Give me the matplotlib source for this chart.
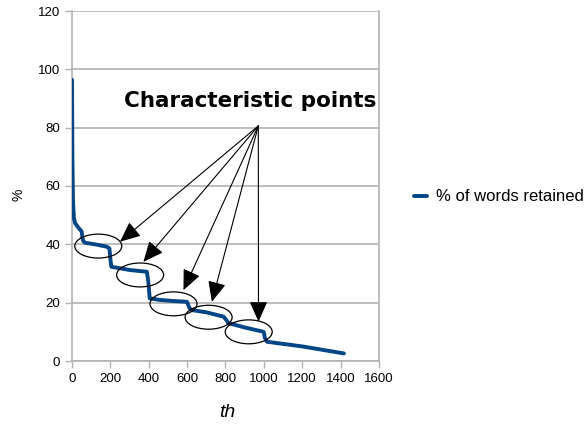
import matplotlib
matplotlib.use("Agg")
import matplotlib.pyplot as plt
from matplotlib.patches import Ellipse

plt.rcParams['font.family'] = ['Liberation Sans', 'DejaVu Sans']

# Data
th = [0, 2, 5, 10, 16, 30, 42, 50, 55, 60, 70, 120, 181, 195, 200, 205, 250, 300,
      390, 398, 405, 450, 520, 599, 610, 620, 700, 790, 805, 815, 900, 999, 1005,
      1016, 1200, 1417]
pct = [96.4, 70, 55, 49, 47.3, 46, 45, 44.5, 42, 41, 40.5, 40, 39.2, 38.6, 35, 32.3,
       31.8, 31.2, 30.6, 27, 21.5, 21, 20.6, 20.3, 18.5, 17.5, 16.7, 15.2, 14, 13,
       11.5, 10, 8, 6.6, 5, 2.6]

# Characteristic points (ellipse centres) and arrow tips
ell_x = [137, 355, 529, 712, 921]
ell_y = [39.4, 29.5, 19.6, 15.0, 10.0]
tip_x = [250, 372, 581, 729, 972]
tip_y = [40.9, 34.0, 24.3, 20.3, 13.5]
src_x, src_y = 971, 80.6

xticks = [0, 200, 400, 600, 800, 1000, 1200, 1400, 1600]
yticks = [0, 20, 40, 60, 80, 100, 120]

fig = plt.figure(figsize=(5.87, 4.24), dpi=100)
ax = fig.add_axes([72/587, 63/424, (379-72)/587, (361-11)/424])

ax.plot(th, pct, color='#004586', lw=2.8, label='% of words retained',
        solid_capstyle='round', solid_joinstyle='round', zorder=3)

for cx, cy in zip(ell_x, ell_y):
    ax.add_patch(Ellipse((cx, cy), width=245, height=8.2, fill=False,
                         edgecolor='black', lw=0.9, zorder=4))

for tx, ty in zip(tip_x, tip_y):
    ax.annotate('', xy=(tx, ty), xytext=(src_x, src_y),
                arrowprops=dict(arrowstyle='-|>,head_length=0.9,head_width=0.4',
                                color='black', lw=0.8, shrinkA=0, shrinkB=0,
                                mutation_scale=14), zorder=5)

ax.text(1585, 89.3, 'Characteristic points', ha='right', va='center',
        fontsize=15.5, fontweight='bold', family='DejaVu Sans', zorder=6)

ax.set_xlim(0, 1600)
ax.set_ylim(0, 120)
ax.set_xticks(xticks)
ax.set_yticks(yticks)
ax.tick_params(labelsize=9.5, color='#b3b3b3', length=5, width=1, pad=3.5)
ax.yaxis.grid(True, color='#b3b3b3', lw=1.2)
ax.set_axisbelow(True)
for s in ax.spines.values():
    s.set_color('#b3b3b3')
    s.set_linewidth(1.2)
ax.spines['top'].set_visible(False)

ax.set_ylabel('%', fontsize=10)
ax.yaxis.set_label_coords(-0.15, 0.474)
ax.set_xlabel('th', fontsize=14, style='italic')
ax.xaxis.set_label_coords(0.505, -0.122)

fig.legend(loc='center left', bbox_to_anchor=(399/587, 1 - 197/424), frameon=False,
           fontsize=12, handlelength=0.75, handletextpad=0.6)

fig.savefig('out.png', dpi=100)
